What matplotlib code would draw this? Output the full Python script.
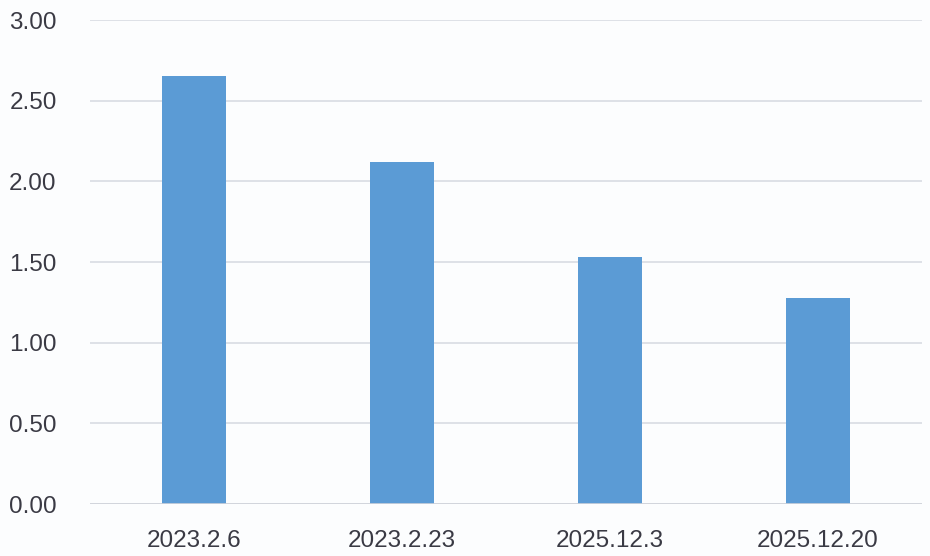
import matplotlib.pyplot as plt

dates = ["2023.2.6", "2023.2.23", "2025.12.3", "2025.12.20"]
values = [2.65, 2.12, 1.53, 1.28]
yticks = [0.0, 0.5, 1.0, 1.5, 2.0, 2.5, 3.0]

plt.rcParams["font.family"] = ["Liberation Sans", "DejaVu Sans"]

fig = plt.figure(figsize=(9.3, 5.56), dpi=100)
fig.patch.set_facecolor("#fcfdfe")
ax = fig.add_axes([0.0968, 0.0935, 0.8946, 0.8705])
ax.set_facecolor("#fcfdfe")

ax.bar(range(len(dates)), values, width=0.31, color="#5b9bd5", zorder=3)

ax.set_xlim(-0.5, len(dates) - 0.5)
ax.set_ylim(0, 3.0)
ax.set_yticks(yticks)
ax.set_yticklabels([f"{v:.2f}" for v in yticks])
ax.set_xticks(range(len(dates)))
ax.set_xticklabels(dates)

ax.grid(axis="y", color="#d9dce3", linewidth=1.2, zorder=0)
for s in ax.spines.values():
    s.set_visible(False)
ax.axhline(0, color="#d0d3da", linewidth=1.2, zorder=4)

ax.tick_params(axis="y", length=0, pad=24, labelsize=17.5, labelcolor="#3a3a44")
ax.tick_params(axis="x", length=0, pad=19, labelsize=17.5, labelcolor="#3a3a44")

fig.savefig("out.png", dpi=100, facecolor=fig.get_facecolor())
